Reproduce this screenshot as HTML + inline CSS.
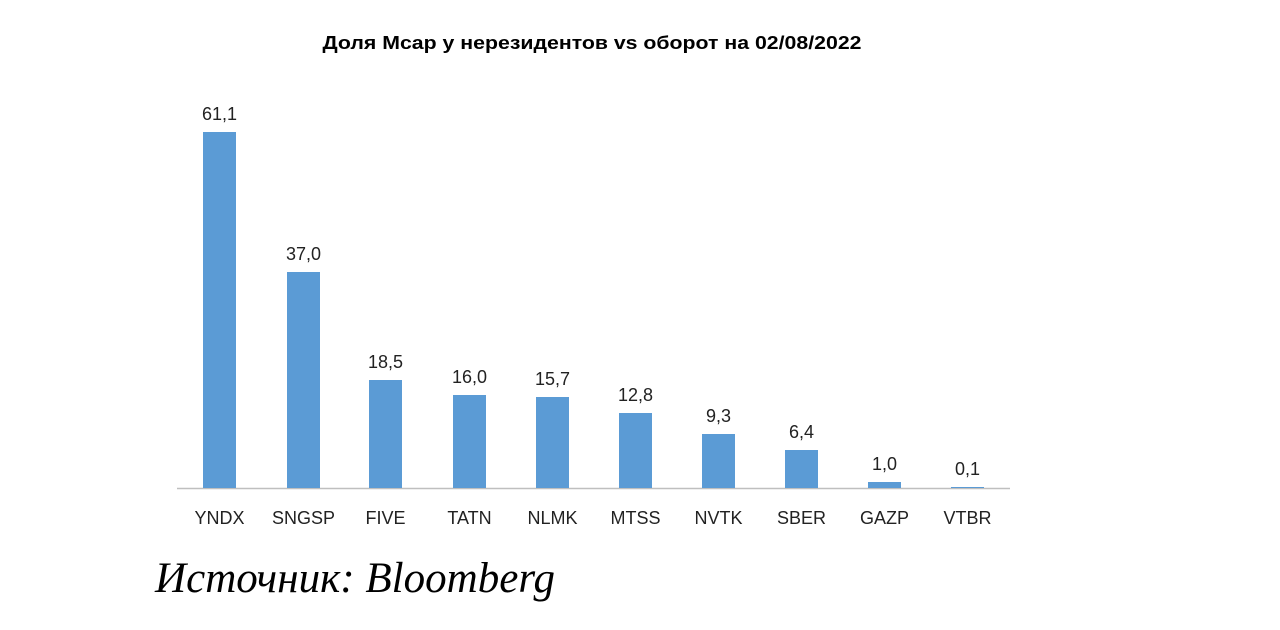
<!DOCTYPE html>
<html><head><meta charset="utf-8"><style>
body{margin:0;background:#fff;width:1280px;height:625px;overflow:hidden}
</style></head><body>
<svg width="1280" height="625" xmlns="http://www.w3.org/2000/svg">
<text x="592" y="49" text-anchor="middle" font-family="Liberation Sans, sans-serif" font-weight="bold" font-size="18" fill="#000" textLength="539" lengthAdjust="spacingAndGlyphs">Доля Mcap у нерезидентов vs оборот на 02/08/2022</text>
<line x1="177" y1="488.5" x2="1010" y2="488.5" stroke="#bfbfbf" stroke-width="1.5"/>
<g fill="#5b9bd5">
<rect x="203" y="132" width="33" height="356"/>
<rect x="287" y="272" width="33" height="216"/>
<rect x="369" y="380" width="33" height="108"/>
<rect x="453" y="395" width="33" height="93"/>
<rect x="536" y="397" width="33" height="91"/>
<rect x="619" y="413" width="33" height="75"/>
<rect x="702" y="434" width="33" height="54"/>
<rect x="785" y="450" width="33" height="38"/>
<rect x="868" y="482" width="33" height="6"/>
<rect x="951" y="487" width="33" height="1"/>
</g>
<g font-family="Liberation Sans, sans-serif" font-size="18" fill="#222" text-anchor="middle">
<text x="219.5" y="120">61,1</text>
<text x="303.5" y="260">37,0</text>
<text x="385.5" y="368">18,5</text>
<text x="469.5" y="383">16,0</text>
<text x="552.5" y="385">15,7</text>
<text x="635.5" y="401">12,8</text>
<text x="718.5" y="422">9,3</text>
<text x="801.5" y="438">6,4</text>
<text x="884.5" y="470">1,0</text>
<text x="967.5" y="475">0,1</text>
<text x="219.5" y="524">YNDX</text>
<text x="303.5" y="524">SNGSP</text>
<text x="385.5" y="524">FIVE</text>
<text x="469.5" y="524">TATN</text>
<text x="552.5" y="524">NLMK</text>
<text x="635.5" y="524">MTSS</text>
<text x="718.5" y="524">NVTK</text>
<text x="801.5" y="524">SBER</text>
<text x="884.5" y="524">GAZP</text>
<text x="967.5" y="524">VTBR</text>
</g>
<text x="155" y="592" font-family="Liberation Serif, serif" font-style="italic" font-size="43" fill="#000" textLength="400" lengthAdjust="spacingAndGlyphs">Источник: Bloomberg</text>
</svg>
</body></html>
